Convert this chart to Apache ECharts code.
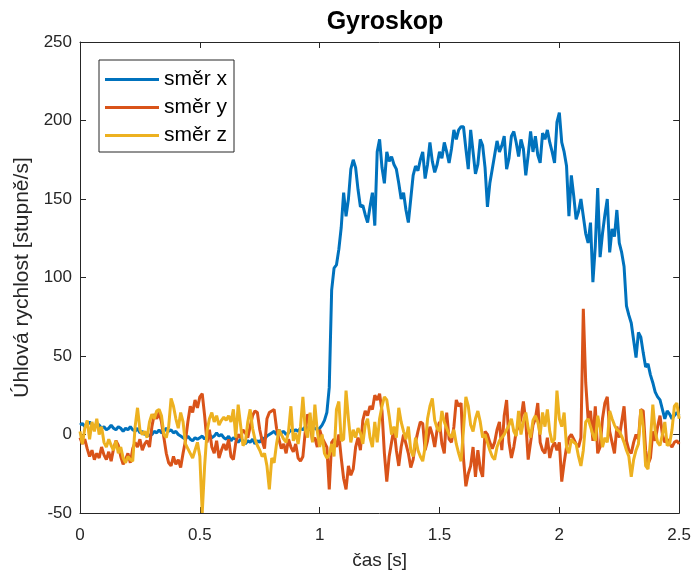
<!DOCTYPE html>
<html>
<head>
<meta charset="utf-8">
<title>Gyroskop</title>
<script src="https://cdn.jsdelivr.net/npm/echarts@6/dist/echarts.min.js"></script>
<style>
  html, body { margin: 0; padding: 0; background: #fff; }
  #chart { width: 694px; height: 576px; }
</style>
</head>
<body>
<div id="chart"></div>
<script>
// sample step of the recording (s)
const step = 0.01;

const xTicks = [0, 0.5, 1, 1.5, 2, 2.5];
const yTicks = [-50, 0, 50, 100, 150, 200, 250];

// angular rate, axis x (deg/s), every 0.01 s
const gyroX = [
    6, 7, 5, 6, 8, 6, 5, 7, 6, 4,
    5, 3, 4, 6, 4, 3, 5, 4, 2, 4,
    3, 5, 3, 2, 4, 1, 2, 0, 1, -1,
    0, 2, 1, 3, 1, 2, 4, 2, 3, 1,
    2, 0, -1, -2, -3, -1, -3, -4, -2, -3,
    -2, -1, -3, -1, 0, -2, -1, 1, -1, 0,
    -2, -3, -1, -4, -2, -3, -5, -3, -4, -6,
    -4, -5, -3, -6, -4, -5, -2, -3, -1, 0,
    1, 2, 0, 3, 1, 2, 0, 1, 3, 2,
    3, 2, 4, 3, 5, 4, 3, 5, 4, 3,
    4, 6, 9, 14, 30, 92, 106, 108, 118, 132,
    154, 139, 150, 169, 175, 170, 156, 145, 146, 140,
    135, 145, 154, 133, 180, 188, 170, 160, 180, 174,
    177, 172, 169, 160, 150, 154, 143, 135, 150, 165,
    171, 168, 175, 180, 163, 172, 186, 174, 167, 172,
    180, 176, 186, 180, 173, 182, 194, 188, 194, 196,
    196, 182, 169, 194, 180, 166, 172, 188, 184, 170,
    145, 160, 169, 178, 187, 180, 184, 190, 169, 176,
    190, 193, 186, 177, 188, 182, 165, 178, 193, 180,
    190, 178, 173, 192, 188, 194, 186, 180, 173, 199,
    205, 186, 180, 171, 139, 165, 152, 137, 142, 150,
    139, 128, 122, 135, 97, 120, 157, 113, 128, 140,
    150, 116, 131, 126, 143, 122, 116, 107, 82, 76,
    71, 60, 49, 65, 62, 52, 43, 45, 38, 33,
    27, 24, 22, 16, 10, 15, 13, 10, 12, 14,
    12
];

// angular rate, axis y (deg/s)
const gyroY = [
    -2, -6, -3, -9, -14, -10, -16, -12, -15, -8,
    -13, -16, -11, -17, -9, -4, -7, -14, -19, -16,
    -12, -18, -9, -5, -8, -3, -10, -6, -4, -8,
    5, 13, 10, 14, 8, -2, -12, -18, -20, -14,
    -19, -16, -21, -12, -4, 8, 18, 14, 22, 17,
    24, 26, 12, -5, 3, -8, -12, -4, -15, -10,
    -6, -10, -3, -14, -16, -5, 0, -2, 3, 1,
    -2, 5, 12, 15, 14, 3, -4, -9, 10, 14,
    15, 16, 4, -3, -9, -6, -12, -3, -8, -11,
    -6, -15, -17, -14, 2, 13, 8, -4, -2, -8,
    3, -2, -5, -8, -35, -5, -3, -8, 0, -15,
    -28, -35, -20, -26, -22, -8, -2, -10, 9, 15,
    12, 18, 16, 25, 22, 26, 15, -12, -30, -14,
    -5, 4, -10, -20, -8, 0, -6, -12, -21, -16,
    -5, 2, 8, 7, -10, -4, 5, 0, -8, 3,
    8, -6, -12, 14, -3, -5, 5, 22, 18, 20,
    -15, -33, -25, -20, -8, -27, -10, -22, -27, 2,
    0, -5, -9, -5, 3, 8, -10, 12, 22, -5,
    -15, -8, 2, 5, 10, 21, 8, -16, -5, 6,
    10, 20, -5, -10, -12, -2, -15, -8, -5, -10,
    -5, -30, -18, -8, -2, 0, -3, -6, -8, -2,
    80, 33, 10, 15, -4, 18, -12, -8, 10, 20,
    24, 2, -5, -12, 5, -2, 8, 18, -4, -10,
    -12, -5, 0, -3, 16, 15, -10, -19, -15, 2,
    -4, 5, 12, 0, -5, -3, -6, -8, -5, -4,
    -6
];

// angular rate, axis z (deg/s)
const gyroZ = [
    2, -6, 4, 9, -3, 8, 2, 10, 0, 5,
    -5, -8, -3, -7, -10, -4, -12, -8, -15, -18,
    -14, -16, -17, 5, 17, 3, 0, 2, -2, 8,
    13, 10, 15, 16, 12, 0, -2, 5, 23, 18,
    10, 4, 14, 8, -6, -9, -12, -15, -10, -5,
    -14, -50, -20, 2, 10, 14, 8, 12, 6, 9,
    11, 9, 12, 8, 16, -2, 19, 6, -7, -5,
    8, 16, 4, -3, -7, -10, -14, -12, -20, -35,
    -15, -18, -6, 3, 0, -3, -5, 2, 18, -4,
    1, -6, 5, 24, 3, -2, 14, -5, 19, 2,
    -8, 0, -12, -15, -13, -6, -14, 16, 21, -4,
    -3, 28, 10, -5, 3, -2, 4, 1, -6, 6,
    10, -2, -8, 8, -5, 10, 18, 24, 22, 12,
    0, 5, -2, 17, 8, 2, -3, 5, -10, -14,
    -2, -10, -14, -17, -8, 10, 18, 23, 9, 4,
    2, 15, 8, 4, 0, -2, 3, -6, -12, -17,
    3, 24, 18, 6, 2, 10, 15, 8, -2, 0,
    -5, -10, -14, -16, -8, -4, -2, 0, 3, 6,
    10, 2, -1, 15, 0, 8, 14, 4, -2, 9,
    12, 8, 0, 14, 5, 16, 2, -5, -3, 28,
    10, 5, 14, -8, -12, -3, -5, -6, -14, -20,
    -10, 8, 10, 5, 0, -4, 12, 4, -8, -2,
    -5, 15, 10, 6, 3, 2, -1, -5, -10, -14,
    -27, -16, -10, -6, 16, 5, -20, -22, -4, 19,
    2, -5, -7, 0, 8, -7, -6, 3, 18, 20,
    10
];

const seriesNames = ['směr x', 'směr y', 'směr z'];
const seriesColors = ['#0072BD', '#D95319', '#EDB120'];

const font = '"Liberation Sans", Arial, Helvetica, sans-serif';
const axisColor = '#262626';

function toPairs(values) {
    return values.map((v, i) => [+(i * step).toFixed(2), v]);
}

function makeSeries(name, values, color) {
    return {
        name: name,
        type: 'line',
        data: toPairs(values),
        symbol: 'none',
        showSymbol: false,
        sampling: null,
        lineStyle: { color: color, width: 3 },
        itemStyle: { color: color },
        xAxisIndex: 0,
        yAxisIndex: 0,
    };
}

function boxAxis(base) {
    // axis copy drawn on the opposite side (ticks, no labels)
    return Object.assign({}, base, {
        name: '',
        axisLabel: { show: false },
    });
}

function getOption() {
    const xBase = {
        type: 'value',
        min: xTicks[0],
        max: xTicks[xTicks.length - 1],
        interval: 0.5,
        axisLine: { show: true, onZero: false, lineStyle: { color: axisColor, width: 1 } },
        axisTick: { show: true, inside: true, length: 6, lineStyle: { color: axisColor } },
        splitLine: { show: false },
        axisLabel: { color: axisColor, fontSize: 17, fontFamily: font, margin: 14 },
    };
    const yBase = {
        type: 'value',
        min: yTicks[0],
        max: yTicks[yTicks.length - 1],
        interval: 50,
        axisLine: { show: true, onZero: false, lineStyle: { color: axisColor, width: 1 } },
        axisTick: { show: true, inside: true, length: 6, lineStyle: { color: axisColor } },
        splitLine: { show: false },
        axisLabel: { color: axisColor, fontSize: 17, fontFamily: font, margin: 8 },
    };

    return {
        animation: false,
        backgroundColor: '#fff',
        title: {
            text: 'Gyroskop',
            left: 380,
            top: 5,
            textAlign: 'center',
            textStyle: { fontSize: 25, fontWeight: 'bold', color: '#000', fontFamily: font },
        },
        legend: {
            data: seriesNames,
            orient: 'vertical',
            left: 99,
            top: 60,
            padding: [9, 7, 6, 6],
            itemGap: 7,
            itemWidth: 54,
            itemHeight: 3,
            icon: 'rect',
            backgroundColor: '#fff',
            borderColor: axisColor,
            borderWidth: 1,
            textStyle: { fontSize: 21, lineHeight: 21, color: '#000', fontFamily: font },
        },
        grid: { left: 80, right: 14, top: 42, bottom: 63, containLabel: false },
        xAxis: [
            Object.assign({}, xBase, {
                position: 'bottom',
                name: 'čas [s]',
                nameLocation: 'middle',
                nameGap: 38,
                nameTextStyle: { fontSize: 19, color: axisColor, fontFamily: font },
            }),
            boxAxis(Object.assign({}, xBase, { position: 'top' })),
        ],
        yAxis: [
            Object.assign({}, yBase, {
                position: 'left',
                name: 'Úhlová rychlost [stupně/s]',
                nameLocation: 'middle',
                nameGap: 42,
                nameTextStyle: { fontSize: 21, color: axisColor, fontFamily: font },
            }),
            boxAxis(Object.assign({}, yBase, { position: 'right' })),
        ],
        series: [
            makeSeries(seriesNames[0], gyroX, seriesColors[0]),
            makeSeries(seriesNames[1], gyroY, seriesColors[1]),
            makeSeries(seriesNames[2], gyroZ, seriesColors[2]),
        ],
    };
}

const chart = echarts.init(document.getElementById('chart'));
chart.setOption(getOption());
</script>
</body>
</html>
